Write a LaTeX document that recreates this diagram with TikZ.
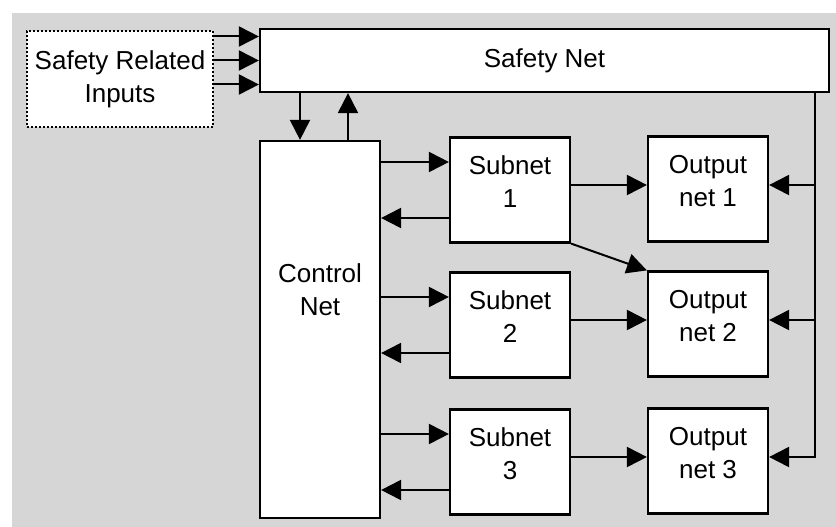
\documentclass[tikz,border=0pt]{standalone}
\usepackage{fontspec}
\setmainfont{Liberation Sans}
\usetikzlibrary{arrows.meta}
\definecolor{bggray}{RGB}{214,214,214}
\tikzset{
	netbox/.style={draw=black, fill=white, line width=2.2pt, align=center, inner sep=0pt},
	smallbox/.style={netbox, minimum width=120, minimum height=105, text depth=17pt},
	arr/.style={-{Triangle[length=20pt,width=20pt]}, line width=2pt},
}
\begin{document}
\begin{tikzpicture}[x=1pt,y=-1pt,every node/.style={font=\fontsize{26}{33}\selectfont}]
	\useasboundingbox (0,0) rectangle (836,527);
	\fill[bggray] (12,13) rectangle (836,527);

	\node[netbox, dash pattern=on 2pt off 2pt, line width=2.5pt, minimum width=186, minimum height=96] (sri) at (120,79) {Safety Related\\Inputs};
	\node[netbox, minimum width=569, minimum height=63] (safe) at (544.5,60.5) {Safety Net};
	\node[netbox, minimum width=120, minimum height=377] (ctl) at (320,329.5) {};
	\node[align=center] (ctltxt) at ([yshift=40pt]ctl.center) {Control\\Net};

	\foreach \i/\y in {1/190,2/325,3/462} {
		\node[smallbox] (sub\i) at (510,\y) {Subnet\\\i};
		\node[smallbox] (out\i) at (708,\y-1) {Output\\net \i};
	}

	\foreach \s in {24,0,-24} {
		\coordinate (si) at ([yshift=\s pt]safe.west);
		\draw[arr] (si -| sri.east) -- (si);
	}
	\coordinate (dn) at ([xshift=-20pt]ctl.north); \coordinate (up) at ([xshift=28pt]ctl.north);
	\draw[arr] (dn |- safe.south) -- (dn); \draw[arr] (up) -- (up |- safe.south);

	\coordinate (fb) at ([xshift=46pt]out1.east);
	\foreach \i in {1,2,3} {
		\coordinate (in\i) at ([yshift=28pt]sub\i.west); \coordinate (back\i) at ([yshift=-28pt]sub\i.west);
		\coordinate (mid\i) at ([yshift=4pt]out\i.west); \coordinate (fbm\i) at ([yshift=4pt]out\i.east);
		\draw[arr] (in\i -| ctl.east) -- (in\i);
		\draw[arr] (back\i) -- (back\i -| ctl.east);
		\draw[arr] (mid\i -| sub\i.east) -- (mid\i);
	}
	\draw[arr] (sub1.south east) -- (out2.north west);

	\draw[arr] (fb |- safe.south) -- (fb |- fbm3) -- (fbm3);
	\draw[arr] (fb |- fbm1) -- (fbm1); \draw[arr] (fb |- fbm2) -- (fbm2);
\end{tikzpicture}
\end{document}
